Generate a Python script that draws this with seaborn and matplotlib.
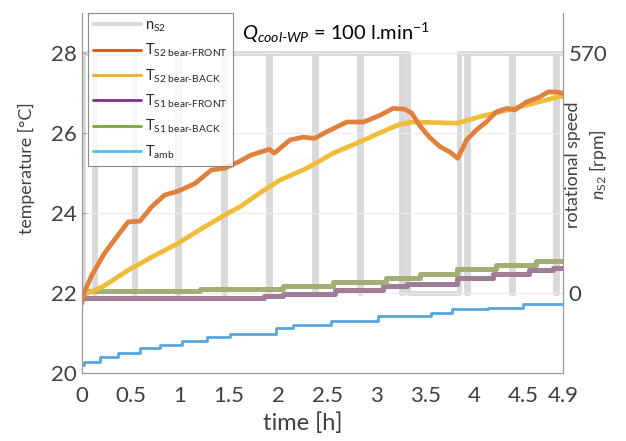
import matplotlib
matplotlib.use("Agg")
import matplotlib.pyplot as plt
from matplotlib.lines import Line2D
import seaborn as sns

# n_S2 switching times [h] and speed [rpm]
n_time = [0.00, 0.01, 0.12, 0.135, 0.53, 0.545, 0.97, 0.985, 1.44, 1.455, 1.90, 1.92,
          2.36, 2.38, 2.82, 2.84, 3.25, 3.27, 3.32, 3.84, 3.91, 3.93, 4.37, 4.39,
          4.82, 4.84, 4.90]
n_rpm = [0, 570, 0, 570, 0, 570, 0, 570, 0, 570, 0, 570,
         0, 570, 0, 570, 0, 570, 0, 570, 0, 570, 0, 570,
         0, 570, 570]

# T S2 bear-FRONT
front_t = [0.00, 0.02, 0.10, 0.23, 0.33, 0.47, 0.59, 0.71, 0.84, 0.98,
           1.15, 1.32, 1.45, 1.61, 1.72, 1.91, 1.96, 2.12, 2.25, 2.37,
           2.49, 2.70, 2.87, 3.04, 3.17, 3.29, 3.36, 3.44, 3.54, 3.65,
           3.75, 3.83, 3.92, 4.02, 4.12, 4.22, 4.33, 4.41, 4.53, 4.66,
           4.75, 4.84, 4.90]
front_T = [21.75, 22.00, 22.45, 23.00, 23.33, 23.78, 23.80, 24.16, 24.45, 24.55,
           24.74, 25.08, 25.12, 25.30, 25.45, 25.60, 25.50, 25.83, 25.90, 25.87,
           26.03, 26.28, 26.28, 26.45, 26.62, 26.60, 26.50, 26.20, 25.90, 25.66,
           25.53, 25.37, 25.83, 26.08, 26.28, 26.53, 26.62, 26.58, 26.78, 26.90,
           27.03, 27.03, 27.00]

# T S2 bear-BACK
back_t = [0.00, 0.06, 0.21, 0.47, 0.71, 0.98, 1.25, 1.49, 1.61, 1.81, 2.02,
          2.29, 2.56, 2.83, 3.10, 3.24, 3.37, 3.83, 4.05, 4.26, 4.53,
          4.84, 4.90]
back_T = [21.95, 22.00, 22.16, 22.57, 22.90, 23.25, 23.66, 24.00, 24.16, 24.50, 24.83,
          25.12, 25.50, 25.78, 26.08, 26.22, 26.28, 26.25, 26.41, 26.53, 26.70,
          26.90, 26.92]

# T S1 bear-FRONT
s1f_t = [0.00, 1.85, 2.05, 2.58, 3.07, 3.31, 3.82, 4.19, 4.56, 4.80, 4.90]
s1f_T = [21.87, 21.93, 21.99, 22.08, 22.18, 22.24, 22.39, 22.49, 22.57, 22.62, 22.62]

# T S1 bear-BACK
s1b_t = [0.00, 1.20, 2.05, 2.56, 3.10, 3.44, 3.82, 4.22, 4.63, 4.90]
s1b_T = [22.05, 22.10, 22.18, 22.28, 22.38, 22.49, 22.60, 22.70, 22.80, 22.80]

# T amb
amb_t = [0.00, 0.02, 0.18, 0.37, 0.59, 0.80, 1.02, 1.27, 1.51, 1.98,
         2.15, 2.54, 3.02, 3.56, 3.77, 4.14, 4.49, 4.90]
amb_T = [20.20, 20.28, 20.39, 20.49, 20.62, 20.70, 20.81, 20.91, 20.99, 21.12,
         21.20, 21.30, 21.42, 21.51, 21.60, 21.63, 21.72, 21.72]

x_ticks = [0, 0.5, 1, 1.5, 2, 2.5, 3, 3.5, 4, 4.5, 4.9]
x_labels = ["0", "0.5", "1", "1.5", "2", "2.5", "3", "3.5", "4", "4.5", "4.9"]

sns.set_style("white")
plt.rcParams["font.family"] = ["Lato", "DejaVu Sans"]
plt.rcParams["mathtext.fontset"] = "custom"
plt.rcParams["mathtext.rm"] = "Lato"
plt.rcParams["mathtext.it"] = "Lato:italic"
plt.rcParams["mathtext.bf"] = "Lato:bold"

txt = "#404040"
spine = "#9a9a9a"

fig = plt.figure(figsize=(6.26, 4.41), dpi=100)
ax = fig.add_axes([0.131, 0.154, 0.768, 0.816])
ax2 = ax.twinx()
ax.set_zorder(ax2.get_zorder() + 1)
ax.patch.set_visible(False)

# speed signal (right axis, behind)
sns.lineplot(x=n_time, y=n_rpm, ax=ax2, color="#d9d9d9", lw=3.5,
             drawstyle="steps-post", estimator=None, sort=False)

# temperatures (left axis)
sns.lineplot(x=amb_t, y=amb_T, ax=ax, color="#58a6db", lw=2.0,
             drawstyle="steps-post", estimator=None, sort=False)
sns.lineplot(x=s1f_t, y=s1f_T, ax=ax, color="#a07c98", lw=3.6,
             drawstyle="steps-post", estimator=None, sort=False)
sns.lineplot(x=s1b_t, y=s1b_T, ax=ax, color="#a2ae74", lw=3.6,
             drawstyle="steps-post", estimator=None, sort=False)
sns.lineplot(x=back_t, y=back_T, ax=ax, color="#f0bd3a", lw=3.4,
             estimator=None, sort=False)
sns.lineplot(x=front_t, y=front_T, ax=ax, color="#e0803c", lw=3.4,
             estimator=None, sort=False)

ax.set_xlim(0, 4.9)
ax.set_ylim(20, 29)
ax2.set_ylim(-190, 665)
ax.set_xticks(x_ticks)
ax.set_xticklabels(x_labels)
ax.set_yticks([20, 22, 24, 26, 28])
ax2.set_yticks([0, 570])

ax2.grid(axis="x", color="#ececec", lw=0.8)
ax.grid(axis="y", color="#ececec", lw=0.8)
ax2.set_axisbelow(True)

for a in (ax, ax2):
    a.spines["top"].set_visible(False)
    for s in ("left", "bottom", "right"):
        a.spines[s].set_color(spine)
        a.spines[s].set_linewidth(0.8)
    a.tick_params(direction="in", length=3, color=spine, labelcolor=txt,
                  labelsize=16)
ax.tick_params(axis="x", pad=9)
ax.tick_params(axis="y", pad=4)
ax2.tick_params(axis="y", pad=4)

ax.set_xlabel("time [h]", fontsize=17, color=txt)
ax.xaxis.set_label_coords(0.46, -0.11)
ax.set_ylabel("temperature [°C]", fontsize=12.8, color=txt)
ax.yaxis.set_label_coords(-0.098, 0.57)
ax2.set_ylabel("rotational speed\n$n_{\\mathrm{S2}}$ [rpm]", fontsize=12.8,
               color=txt, rotation=90, linespacing=1.35)
ax2.yaxis.set_label_coords(1.004, 0.58)

ax.text(0.333, 0.944, "$Q_{cool\\text{-}WP}$ = 100 l.min$^{-1}$",
        transform=ax.transAxes, fontsize=14.5, color="black", va="center")

handles = [
    Line2D([], [], color="#d9d9d9", lw=3),
    Line2D([], [], color="#d95319", lw=2),
    Line2D([], [], color="#edb120", lw=2),
    Line2D([], [], color="#7e2f8e", lw=2),
    Line2D([], [], color="#77ac30", lw=2),
    Line2D([], [], color="#4dbeee", lw=2),
]
labels = [
    "n$_{\\mathrm{S2}}$",
    "T$_{\\text{S2 bear-FRONT}}$",
    "T$_{\\text{S2 bear-BACK}}$",
    "T$_{\\text{S1 bear-FRONT}}$",
    "T$_{\\text{S1 bear-BACK}}$",
    "T$_{\\mathrm{amb}}$",
]
leg = ax.legend(handles, labels, loc="upper left", bbox_to_anchor=(0.012, 1.0),
                borderaxespad=0, fontsize=10.5, frameon=True, fancybox=False,
                handlelength=3.3, handletextpad=0.3, labelspacing=0.55,
                borderpad=0.35)
leg.get_frame().set_edgecolor("#6e6e6e")
leg.get_frame().set_linewidth(0.8)

fig.savefig("out.png", dpi=100)
